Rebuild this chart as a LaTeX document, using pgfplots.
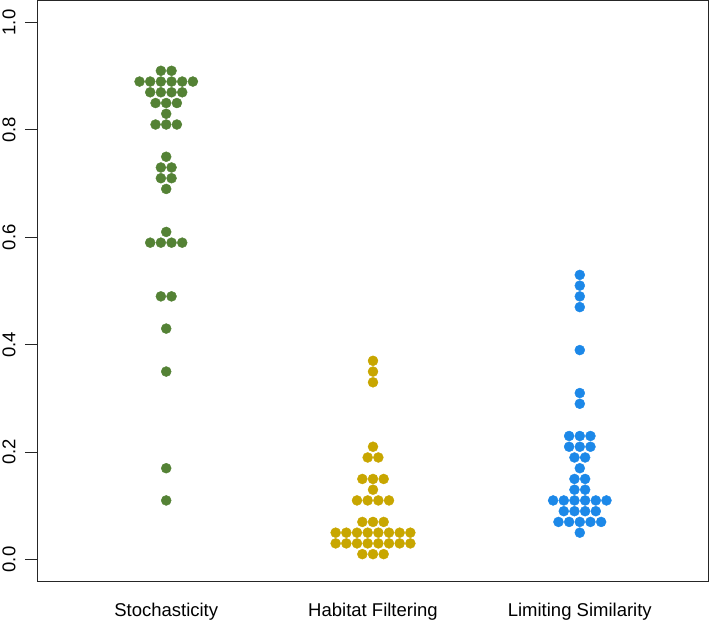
\documentclass[border=0pt]{standalone}
\usepackage{pgfplots}
\pgfplotsset{compat=1.18}
\usepackage{fontspec}
\setmainfont{Liberation Sans}
\definecolor{cgreen}{RGB}{84,130,53}
\definecolor{cyellow}{RGB}{200,166,0}
\definecolor{cblue}{RGB}{28,136,232}
\begin{document}
\begin{tikzpicture}
\begin{axis}[
  name=ax,
  scale only axis,
  width=670pt, height=580pt,
  xmin=0.38, xmax=3.62, ymin=-0.04, ymax=1.04,
  axis line style={draw=black!85, line width=1pt},
  xtick={1,2,3},
  xticklabels={Stochasticity, Habitat Filtering, Limiting Similarity},
  x tick style={draw=none},
  xticklabel style={font=\fontsize{18.5}{20}\selectfont, yshift=-6pt},
  ytick={0,0.2,0.4,0.6,0.8,1.0},
  y tick style={draw=black!85, line width=1pt},
  ytick pos=left,
  tick align=outside,
  major tick length=13pt,
  yticklabel shift=6pt,
  yticklabel style={font=\fontsize{18.5}{20}\selectfont, rotate=90, anchor=south},
  /pgf/number format/.cd, fixed, fixed zerofill, precision=1, assume math mode=true,
]
\addplot[only marks, color=cgreen, mark=*, mark size=5pt, mark options={draw=none, fill=cgreen}] coordinates {
(0.9742,0.91)(1.0258,0.91)
(0.871,0.89)(0.9226,0.89)(0.9742,0.89)(1.0258,0.89)(1.0774,0.89)(1.129,0.89)
(0.9226,0.87)(0.9742,0.87)(1.0258,0.87)(1.0774,0.87)
(0.9484,0.85)(1,0.85)(1.0516,0.85)
(1,0.83)
(0.9484,0.81)(1,0.81)(1.0516,0.81)
(1,0.75)
(0.9742,0.73)(1.0258,0.73)
(0.9742,0.71)(1.0258,0.71)
(1,0.69)
(1,0.61)
(0.9226,0.59)(0.9742,0.59)(1.0258,0.59)(1.0774,0.59)
(0.9742,0.49)(1.0258,0.49)
(1,0.43)
(1,0.35)
(1,0.17)
(1,0.11)
};
\addplot[only marks, color=cyellow, mark=*, mark size=5pt, mark options={draw=none, fill=cyellow}] coordinates {
(2,0.37)(2,0.35)(2,0.33)
(2,0.21)
(1.9742,0.19)(2.0258,0.19)
(1.9484,0.15)(2,0.15)(2.0516,0.15)
(2,0.13)
(1.9226,0.11)(1.9742,0.11)(2.0258,0.11)(2.0774,0.11)
(1.9484,0.07)(2,0.07)(2.0516,0.07)
(1.8194,0.05)(1.871,0.05)(1.9226,0.05)(1.9742,0.05)(2.0258,0.05)(2.0774,0.05)(2.129,0.05)(2.1806,0.05)
(1.8194,0.03)(1.871,0.03)(1.9226,0.03)(1.9742,0.03)(2.0258,0.03)(2.0774,0.03)(2.129,0.03)(2.1806,0.03)
(1.9484,0.01)(2,0.01)(2.0516,0.01)
};
\addplot[only marks, color=cblue, mark=*, mark size=5pt, mark options={draw=none, fill=cblue}] coordinates {
(3,0.53)(3,0.51)(3,0.49)(3,0.47)
(3,0.39)
(3,0.31)(3,0.29)
(2.9484,0.23)(3,0.23)(3.0516,0.23)
(2.9484,0.21)(3,0.21)(3.0516,0.21)
(2.9742,0.19)(3.0258,0.19)
(3,0.17)
(2.9742,0.15)(3.0258,0.15)
(2.9742,0.13)(3.0258,0.13)
(2.871,0.11)(2.9226,0.11)(2.9742,0.11)(3.0258,0.11)(3.0774,0.11)(3.129,0.11)
(2.9226,0.09)(2.9742,0.09)(3.0258,0.09)(3.0774,0.09)
(2.8968,0.07)(2.9484,0.07)(3,0.07)(3.0516,0.07)(3.1032,0.07)
(3,0.05)
};
\end{axis}
\pgfresetboundingbox
\path ([xshift=-38pt,yshift=-40pt]ax.south west) rectangle ([xshift=1pt,yshift=1pt]ax.north east);
\end{tikzpicture}
\end{document}
